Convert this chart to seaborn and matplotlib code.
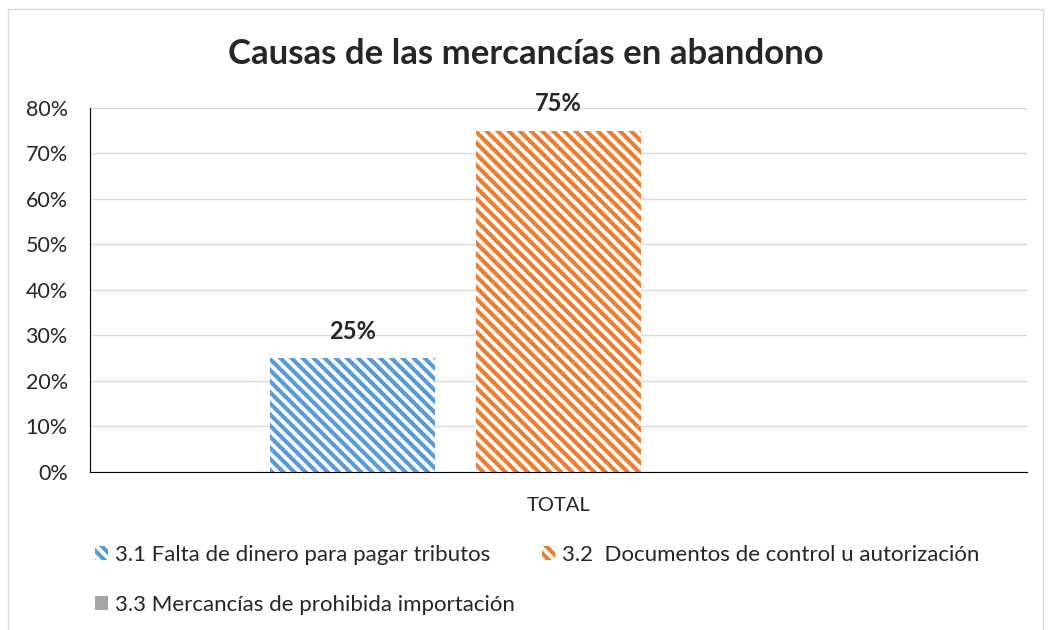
import pandas as pd
import matplotlib.pyplot as plt
import matplotlib.patches as mpatches
import seaborn as sns
from matplotlib.ticker import PercentFormatter

categoria = ["TOTAL", "TOTAL", "TOTAL"]
causas = ["3.1 Falta de dinero para pagar tributos",
          "3.2  Documentos de control u autorización",
          "3.3 Mercancías de prohibida importación"]
valores = [0.25, 0.75, 0.0]
colores = ["#5b9bd5", "#ed7d31", "#a5a5a5"]
hatches = ["\\\\\\", "\\\\\\", ""]

sns.set_style("white")
plt.rcParams['font.family'] = ['Lato', 'DejaVu Sans']
plt.rcParams['hatch.linewidth'] = 3.0

df = pd.DataFrame({"cat": categoria, "causa": causas, "valor": valores})

fig = plt.figure(figsize=(10.51, 6.3), dpi=100)
ax = fig.add_axes([0.0856, 0.2508, 0.8916, 0.5778])

sns.barplot(data=df, x="cat", y="valor", hue="causa", palette=colores,
            width=0.66, gap=0.2, ax=ax, legend=False)

for bar, col, h in zip(ax.patches, colores, hatches):
    if h:
        bar.set_facecolor("white")
        bar.set_edgecolor(col)
        bar.set_hatch(h)
        bar.set_linewidth(0)
    else:
        bar.set_facecolor(col)
        bar.set_linewidth(0)

for bar, v in zip(ax.patches, valores):
    if v > 0:
        ax.text(bar.get_x() + bar.get_width() / 2, v + 0.034, f"{v:.0%}",
                ha="center", va="bottom", fontsize=17, fontweight="bold")

ax.set_ylim(0, 0.8)
ax.set_xlim(-0.5, 0.5)
ax.set_yticks([i / 10 for i in range(9)])
ax.yaxis.set_major_formatter(PercentFormatter(1.0, decimals=0))
ax.yaxis.grid(True, color="#d9d9d9", linewidth=1)
ax.set_axisbelow(True)
ax.set_xlabel("")
ax.set_ylabel("")
sns.despine(ax=ax, top=True, right=True)
ax.spines["left"].set_color("black")
ax.spines["bottom"].set_color("black")
ax.tick_params(axis="y", length=0, labelsize=15.5, pad=16)
ax.tick_params(axis="x", length=0, labelsize=14.5, pad=18)

fig.text(0.5, 0.914, "Causas de las mercancías en abandono", ha="center",
         va="center", fontsize=25, fontweight="bold")

handles = []
for lab, col, h in zip(causas, colores, hatches):
    if h:
        handles.append(mpatches.Patch(facecolor="white", edgecolor=col,
                                      hatch=h, linewidth=0, label=lab))
    else:
        handles.append(mpatches.Patch(facecolor=col, linewidth=0, label=lab))
# orden por filas: 3.1, 3.2 arriba; 3.3 abajo
orden = [0, 2, 1]
fig.legend(handles=[handles[i] for i in orden], loc="upper left",
           bbox_to_anchor=(95 / 1051, 1 - 545 / 630),
           ncol=2, frameon=False, fontsize=16, borderpad=0, borderaxespad=0,
           handlelength=0.6, handleheight=0.6, handletextpad=0.3,
           columnspacing=1.2, labelspacing=1.35)

fig.patches.append(mpatches.Rectangle((8 / 1051, -0.1), 1035 / 1051, 1.085,
                                      transform=fig.transFigure, fill=False,
                                      edgecolor="#d9d9d9", linewidth=1))

fig.savefig("out.png", dpi=100)
